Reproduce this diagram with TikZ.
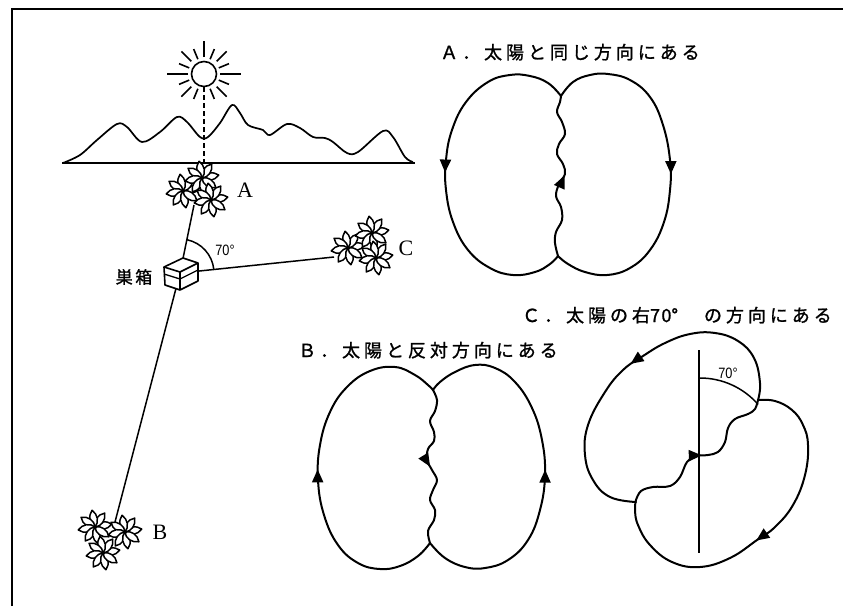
\documentclass[tikz,border=0pt]{standalone}
\usepackage{fontspec}
\setmainfont{Liberation Serif}
\newfontfamily\jpspaced[LetterSpace=22,FakeBold=1.2]{Noto Sans CJK JP}
\newfontfamily\nestfont[LetterSpace=15,FakeBold=1.2]{Noto Sans CJK JP}
\newfontfamily\labelsans{Liberation Sans}
\usetikzlibrary{decorations.markings,calc,arrows.meta}

\tikzset{
  frameline/.style={line width=2.4pt},
  linkline/.style={line width=1.5pt},
  danceline/.style={line width=2pt, line join=round, line cap=round},
  midarrow/.style={postaction={decorate,decoration={markings,
      mark=at position #1 with {\arrow{Triangle[length=13pt,width=11pt]}}}}},
  petal/.style={line width=1.5pt, fill=white, line join=round},
  title/.style={font=\jpspaced\fontsize{18}{18}\selectfont, anchor=base west, inner sep=0pt},
  siteletter/.style={font=\fontsize{22}{22}\selectfont, inner sep=0pt},
  anglelabel/.style={font=\labelsans\fontsize{15}{15}\selectfont, inner sep=0pt},
  nestlabel/.style={font=\nestfont\fontsize{17}{17}\selectfont, inner sep=0pt},
  flower/.pic={
    \foreach \a in {0,45,...,315}
      \draw[petal,rotate=\a+10] (0,0) .. controls (4,5) and (12,5) .. (17,0)
                                      .. controls (12,-5) and (4,-5) .. (0,0);
    \fill (0,0) circle (2);
  }
}

\begin{document}
\begin{tikzpicture}[x=1pt,y=-1pt]
\useasboundingbox (0,0) rectangle (843,606);

% frame (top and left edges)
\draw[frameline] (12,606) -- (12,9) -- (843,9);

% ---------------- the scene: sun, hills, hive and flower patches
\node[circle, draw, line width=1.6pt, minimum size=25pt, inner sep=0pt] (sun) at (204,74) {};
\foreach \ang/\ri/\ro in {0/16/37, 22.5/16/27, 45/18/32, 67.5/16/27,
                          112.5/16/27, 135/18/32, 157.5/16/27, 180/16/37,
                          202.5/16/27, 225/18/32, 247.5/16/27, 270/17/33,
                          292.5/16/27, 315/18/32, 337.5/16/27}
  \draw[line width=1.6pt] ($(sun.center)+(\ang:\ri)$) -- ($(sun.center)+(\ang:\ro)$);

% hills
\draw[line width=1.7pt, line join=round] plot[smooth, tension=0.55] coordinates {
  (63,163)(80,155)(97,140)(117,124)(127,127)(142,142)(160,132)(177,117)
  (187,122)(200,137)(208,137)(220,123)(232,105)(240,113)(248,125)(263,130)
  (270,135)(287,124)(300,128)(313,137)(325,138)(333,142)(347,153)(358,152)
  (383,131)(393,137)(405,157)(413,162)};
\draw[line width=1.7pt] (62,163) -- (415,163);

% named points
\coordinate (hive) at (180,273);
\coordinate (siteA) at (194,205);
\coordinate (siteB) at (115,522);
\coordinate (siteC) at (334,257);
\coordinate (horizon) at (204,170);

% sun bearing
\draw[line width=1.8pt, dash pattern=on 5pt off 3pt] (sun.south) -- (horizon);

% flight lines
\draw[linkline] (hive) -- (siteA);
\draw[linkline] (hive) -- (siteB);
\draw[linkline] (hive) -- (siteC);
\draw[linkline] ($(hive)+(-78:34)$) arc[start angle=-78, end angle=-6, radius=34];

% hive box
\draw[line width=1.6pt, fill=white, line join=round]
  (164,267) -- (183,258) -- (198,263) -- (198,281) -- (180,290) -- (165,285) -- cycle;
\draw[line width=1.6pt, line join=round] (164,267) -- (180,272) -- (198,263);
\draw[line width=1.6pt] (180,272) -- (180,290);
\draw[line width=1.3pt, line join=round] (164,274) -- (180,279) -- (198,270);

% flower patches
\pic at (183,191) {flower};
\pic at (202,178) {flower};
\pic at (211,200) {flower};

\pic at (95,527) {flower};
\pic at (125,532) {flower};
\pic at (103,553) {flower};

\pic at (348,248) {flower};
\pic at (372,233) {flower};
\pic at (376,258) {flower};

% labels
\node[siteletter] (labA) at (245,190) {A};
\node[siteletter] (labB) at (160,532) {B};
\node[siteletter] (labC) at (406,248) {C};
\node[nestlabel] (nest) at (134,277) {巣箱};
\node[anglelabel] (angA) at (225,250) {\scalebox{0.85}[1]{70°}};

% ---------------- dance A: waggle upward
\node[title] (titleA) at (440,59) {Ａ．太陽と同じ方向にある};
\draw[danceline, midarrow=0.5] plot[smooth, tension=0.6] coordinates {
  (558,256)(555,243)(556,232)(562,220)(561,207)(556,196)(559,184)(565,174)
  (563,164)(557,154)(559,144)(565,134)(562,122)(557,112)(560,102)(561,96)};
\draw[danceline, midarrow=0.5] plot[smooth, tension=0.7] coordinates {
  (561,96)(548,83)(530,76)(510,75)(488,82)(466,102)(452,130)(446,160)
  (446,190)(453,222)(468,250)(490,268)(513,275)(535,272)(550,264)(558,256)};
\draw[danceline, midarrow=0.5] plot[smooth, tension=0.7] coordinates {
  (561,96)(573,82)(590,75)(608,74)(630,80)(650,97)(663,125)(670,160)
  (670,190)(664,222)(650,250)(630,268)(607,275)(585,272)(568,264)(558,256)};

% ---------------- dance B: waggle downward
\node[title] (titleB) at (298,357) {Ｂ．太陽と反対方向にある};
\draw[danceline, midarrow=0.5] plot[smooth, tension=0.6] coordinates {
  (433,390)(437,400)(435,411)(430,421)(434,432)(434,441)(428,449)(427,460)
  (432,470)(437,480)(433,490)(430,500)(435,510)(434,520)(428,531)(430,543)};
\draw[danceline, midarrow=0.5] plot[smooth, tension=0.7] coordinates {
  (430,543)(418,556)(400,566)(380,569)(358,563)(338,545)(324,515)(318,480)
  (320,445)(330,412)(347,387)(370,371)(395,367)(415,375)(428,385)(433,390)};
\draw[danceline, midarrow=0.5] plot[smooth, tension=0.7] coordinates {
  (430,543)(445,558)(465,567)(485,568)(508,560)(528,540)(540,510)(545,475)
  (542,440)(532,408)(515,382)(495,368)(475,365)(455,372)(440,382)(433,390)};

% ---------------- dance C: waggle turned to the right of vertical
\node[title] (titleC) at (522,322) {Ｃ．太陽の右{\addfontfeature{LetterSpace=8}70}°　の方向にある};
\coordinate (ccen) at (700,455);
\coordinate (axtop) at (699,350);
\coordinate (axbot) at (699,553);
\draw[line width=1.6pt] (axtop) -- (axbot);
\draw[linkline] ($(ccen)+(-90:77)$) arc[start angle=-90, end angle=-41, radius=77];
\node[anglelabel] (angC) at (728,373) {\scalebox{0.85}[1]{70°}};
\draw[danceline, midarrow=0.5] plot[smooth, tension=0.6] coordinates {
  (636,500)(641,491)(653,487)(670,486)(680,477)(687,462)(697,456)(708,455)
  (718,452)(725,442)(728,428)(735,419)(748,414)(755,409)(758,400)};
\draw[danceline, midarrow=0.5] plot[smooth, tension=0.7] coordinates {
  (758,400)(760,383)(754,358)(738,341)(715,333)(690,334)(665,343)(643,356)
  (623,370)(605,392)(588,425)(585,455)(593,480)(610,497)(636,502)};
\draw[danceline, midarrow=0.53] plot[smooth, tension=0.7] coordinates {
  (758,400)(775,401)(792,410)(803,425)(808,445)(805,475)(793,505)(775,527)
  (757,540)(730,558)(700,567)(672,562)(650,545)(638,525)(635,510)(636,500)};
\end{tikzpicture}
\end{document}
